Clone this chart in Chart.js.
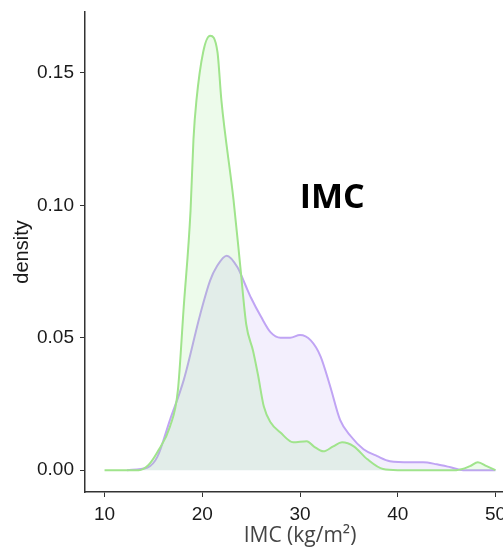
<!DOCTYPE html>
<html>
<head>
<meta charset="utf-8">
<script src="https://cdn.jsdelivr.net/npm/chart.js@4"></script>
<style>
  html, body { margin: 0; padding: 0; background: #fff; overflow: hidden; }
  canvas { display: block; }
</style>
</head>
<body>
<canvas id="c" width="530" height="547"></canvas>
<script>
// density curves
const greenX = [10, 13.5, 14.5, 15.4, 16.7, 17.5, 18.1, 18.8, 19.1, 19.4, 20.1, 20.8, 21.55, 21.96, 23.2, 23.9, 24.5, 25.2, 25.7, 26.3, 27.0, 28.0, 29.3, 30.7, 31.4, 32.4, 33.4, 34.3, 35.5, 36.9, 38.5, 40, 46, 47.4, 48.2, 49.1, 50];
const greenY = [0, 0, 0.002, 0.0068, 0.0165, 0.030, 0.0615, 0.098, 0.125, 0.1395, 0.158, 0.164, 0.158, 0.1395, 0.102, 0.0766, 0.055, 0.045, 0.036, 0.024, 0.018, 0.0142, 0.0105, 0.0109, 0.009, 0.0071, 0.009, 0.0105, 0.009, 0.0041, 0.0004, 0, 0, 0.0015, 0.003, 0.0015, 0];

const purpleX = [12.3, 14.4, 15.4, 16.7, 18.1, 19.8, 20.8, 21.5, 22.5, 23.6, 24.4, 25.0, 26.0, 27.0, 28.0, 29.0, 30.0, 31.1, 32.1, 33.1, 34.1, 35.2, 36.5, 37.9, 39.2, 41.3, 42.6, 44.0, 45.4, 46.7, 50];
const purpleY = [0, 0.001, 0.005, 0.019, 0.034, 0.059, 0.0716, 0.077, 0.081, 0.0766, 0.070, 0.065, 0.058, 0.052, 0.050, 0.050, 0.051, 0.049, 0.043, 0.0315, 0.019, 0.0128, 0.0079, 0.0053, 0.0034, 0.003, 0.003, 0.0022, 0.0011, 0, 0];

const xTicks = [10, 20, 30, 40, 50];
const yTicks = [0, 0.05, 0.10, 0.15];

const toPoints = (xs, ys) => xs.map((x, i) => ({ x: x, y: ys[i] }));

// bold "IMC" label placed in data coordinates
const labelPlugin = {
  id: "imcLabel",
  afterDatasetsDraw(chart) {
    const { ctx, scales } = chart;
    ctx.save();
    ctx.font = "bold 34px 'Open Sans'";
    ctx.fillStyle = "#000";
    ctx.textAlign = "center";
    ctx.textBaseline = "middle";
    ctx.fillText("IMC", scales.x.getPixelForValue(33.3), scales.y.getPixelForValue(0.1025));
    ctx.restore();
  },
};

const tickFont = { family: "'Liberation Sans', Arial", size: 19 };

new Chart(document.getElementById("c"), {
  type: "line",
  data: {
    datasets: [
      {
        data: toPoints(greenX, greenY),
        borderColor: "rgb(160,228,140)",
        backgroundColor: "rgba(144,230,130,0.16)",
        borderWidth: 2,
        fill: "origin",
        pointRadius: 0,
        cubicInterpolationMode: "monotone",
      },
      {
        data: toPoints(purpleX, purpleY),
        borderColor: "rgb(192,164,244)",
        backgroundColor: "rgba(160,125,240,0.12)",
        borderWidth: 2,
        fill: "origin",
        pointRadius: 0,
        cubicInterpolationMode: "monotone",
      },
    ],
  },
  options: {
    responsive: false,
    animation: false,
    layout: { padding: { top: 12, right: 15, left: 0, bottom: 0 } },
    plugins: { legend: { display: false }, tooltip: { enabled: false } },
    scales: {
      x: {
        type: "linear",
        min: 8,
        max: 52,
        afterBuildTicks: (s) => { s.ticks = xTicks.map((v) => ({ value: v })); },
        afterFit: (s) => { s.height = 55; s.paddingLeft = 0; s.paddingRight = 0; },
        border: { display: true, color: "#333", width: 1.5 },
        grid: { display: true, drawOnChartArea: false, color: "#333", tickLength: 5, lineWidth: 1 },
        ticks: { font: tickFont, color: "#1a1a1a", padding: 6, maxRotation: 0 },
        title: {
          display: true,
          text: "IMC (kg/m²)",
          font: { family: "'Open Sans'", size: 21, lineHeight: 1 },
          color: "#444",
          padding: 0,
        },
      },
      y: {
        min: -0.00825,
        max: 0.173,
        afterBuildTicks: (s) => { s.ticks = yTicks.map((v) => ({ value: v })); },
        afterFit: (s) => { s.width = 85; s.paddingTop = 0; s.paddingBottom = 0; },
        border: { display: true, color: "#333", width: 1.5 },
        grid: { display: true, drawOnChartArea: false, color: "#333", tickLength: 5, lineWidth: 1 },
        ticks: { font: tickFont, color: "#1a1a1a", padding: 6, callback: (v) => v.toFixed(2) },
        title: {
          display: true,
          text: "density",
          font: { family: "'Liberation Sans', Arial", size: 20, lineHeight: 1 },
          color: "#1a1a1a",
          padding: 12,
        },
      },
    },
  },
  plugins: [labelPlugin],
});
</script>
</body>
</html>
